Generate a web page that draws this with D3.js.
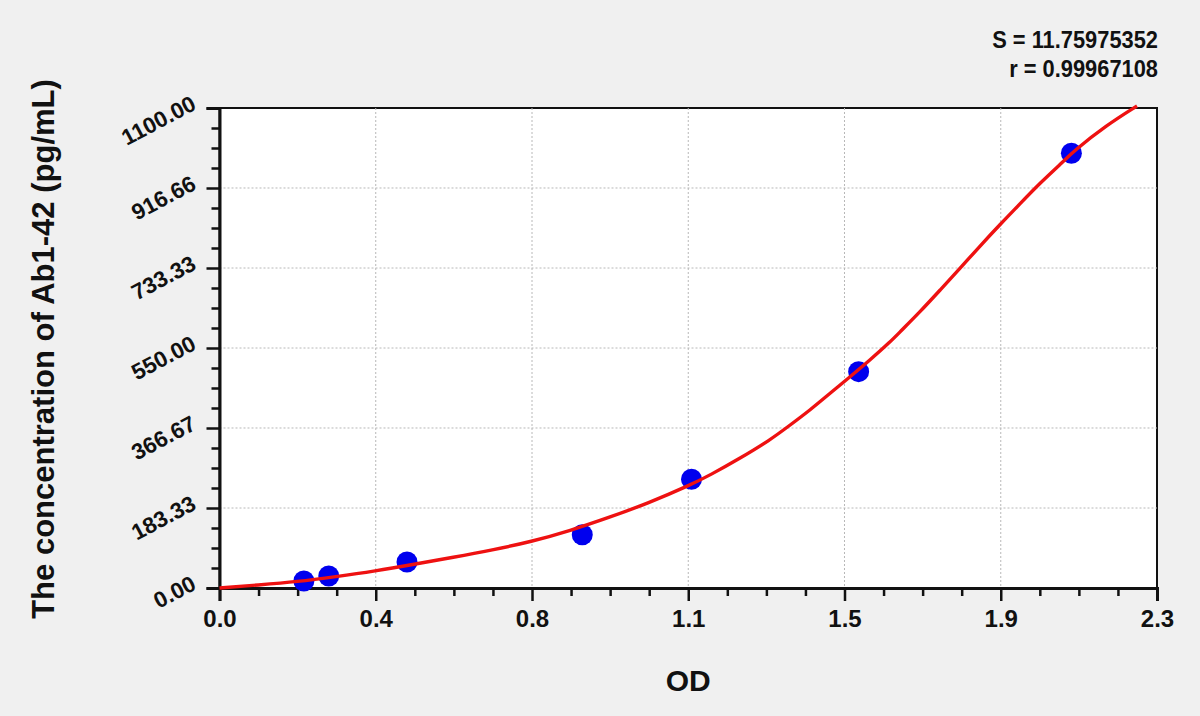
<!DOCTYPE html>
<html>
<head>
<meta charset="utf-8">
<script src="https://cdn.jsdelivr.net/npm/d3@7"></script>
<style>
  body { margin: 0; background: #f0f0f0; }
  svg { display: block; }
  text { font-family: "Liberation Sans", Arial, sans-serif; font-weight: bold; fill: #111; }
</style>
</head>
<body>
<div id="container"></div>
<script>
const canvasWidth = 1200;
const canvasHeight = 716;

// standard points (OD, concentration)
const pointOD = [0.207, 0.268, 0.460, 0.890, 1.158, 1.568, 2.090];
const pointConc = [16.0, 27.5, 59.6, 122.1, 249.3, 495.7, 996.2];

// fitted curve
const curveOD = [0, 0.095, 0.191, 0.285, 0.382, 0.477, 0.574, 0.669, 0.765, 0.860,
  0.957, 1.051, 1.155, 1.204, 1.277, 1.351, 1.400, 1.449, 1.498, 1.547,
  1.596, 1.646, 1.670, 1.719, 1.768, 1.817, 1.866, 1.915, 1.965, 2.014,
  2.063, 2.095, 2.177, 2.251];
const curveConc = [0, 6.9, 14.4, 25.9, 39.0, 54.3, 70.4, 87.1, 106.1, 131.3,
  162.0, 194.1, 236.0, 259.0, 297.2, 339.2, 373.5, 407.9, 446.2, 484.2,
  522.5, 564.4, 587.4, 633.2, 682.9, 732.6, 784.0, 833.0, 881.6, 929.0,
  971.0, 1001.0, 1061.0, 1104.6];

// axis ticks
const xTicks = [0, 0.38333, 0.76667, 1.15, 1.53333, 1.91667, 2.3];
const xTickLabels = ["0.0", "0.4", "0.8", "1.1", "1.5", "1.9", "2.3"];
const yTicks = [0, 183.333, 366.667, 550, 733.333, 916.667, 1100];
const yTickLabels = ["0.00", "183.33", "366.67", "550.00", "733.33", "916.66", "1100.00"];

const statLines = ["S = 11.75975352", "r = 0.99967108"];
const xTitle = "OD";
const yTitle = "The concentration of Ab1-42 (pg/mL)";

// plot box
const plotLeft = 219.5, plotRight = 1157, plotTop = 108, plotBottom = 588;

let svg = d3.select("#container")
            .append("svg")
              .attr("width", canvasWidth)
              .attr("height", canvasHeight)
              .style("background-color", "#f0f0f0");

let x = d3.scaleLinear().domain([0, 2.3]).range([plotLeft, plotRight]);
let y = d3.scaleLinear().domain([0, 1100]).range([plotBottom, plotTop]);

// white plot area with frame
svg.append("rect")
    .attr("x", plotLeft).attr("y", plotTop)
    .attr("width", plotRight - plotLeft).attr("height", plotBottom - plotTop)
    .attr("fill", "white")
    .attr("stroke", "#111")
    .attr("stroke-width", 2);

// dotted grid
svg.append("g").selectAll("line").data(xTicks.slice(1, -1)).enter().append("line")
    .attr("x1", d => x(d)).attr("x2", d => x(d))
    .attr("y1", plotTop).attr("y2", plotBottom)
    .attr("stroke", "#b8b8b8").attr("stroke-dasharray", "2,2");
svg.append("g").selectAll("line").data(yTicks.slice(1, -1)).enter().append("line")
    .attr("y1", d => y(d)).attr("y2", d => y(d))
    .attr("x1", plotLeft).attr("x2", plotRight)
    .attr("stroke", "#b8b8b8").attr("stroke-dasharray", "2,2");

// minor ticks, 3 between each pair of majors
function minors(major) {
  let out = [];
  for (let i = 0; i < major.length - 1; i++) {
    let step = (major[i + 1] - major[i]) / 4;
    for (let k = 1; k < 4; k++) out.push(major[i] + k * step);
  }
  return out;
}

// x axis
let xAxis = svg.append("g")
    .attr("transform", "translate(0," + plotBottom + ")")
    .call(d3.axisBottom(x).tickValues(xTicks).tickSize(13).tickPadding(9)
            .tickFormat((d, i) => xTickLabels[i]));
xAxis.select(".domain").attr("stroke", "#111").attr("stroke-width", 3);
xAxis.selectAll(".tick line").attr("stroke", "#111").attr("stroke-width", 2.5);
xAxis.selectAll(".tick text").style("font-size", "24px").attr("fill", "#111");
svg.append("g").attr("transform", "translate(0," + plotBottom + ")")
    .call(d3.axisBottom(x).tickValues(minors(xTicks)).tickSize(8).tickFormat(""))
    .call(g => g.select(".domain").remove())
    .selectAll("line").attr("stroke", "#111").attr("stroke-width", 2.5);

// y axis
let yAxis = svg.append("g")
    .attr("transform", "translate(" + plotLeft + ",0)")
    .call(d3.axisLeft(y).tickValues(yTicks).tickSize(13).tickFormat((d, i) => yTickLabels[i]));
yAxis.select(".domain").attr("stroke", "#111").attr("stroke-width", 3);
yAxis.selectAll(".tick line").attr("stroke", "#111").attr("stroke-width", 2.5);
yAxis.selectAll(".tick text")
    .style("font-size", "22.5px")
    .attr("fill", "#111")
    .attr("x", null).attr("dy", null)
    .attr("text-anchor", "end")
    .attr("transform", "translate(-22,0) rotate(-28)");
svg.append("g").attr("transform", "translate(" + plotLeft + ",0)")
    .call(d3.axisLeft(y).tickValues(minors(yTicks)).tickSize(8).tickFormat(""))
    .call(g => g.select(".domain").remove())
    .selectAll("line").attr("stroke", "#111").attr("stroke-width", 2.5);

// standard points
svg.append("g").selectAll("circle").data(pointOD).enter().append("circle")
    .attr("cx", d => x(d))
    .attr("cy", (d, i) => y(pointConc[i]))
    .attr("r", 10.5)
    .attr("fill", "#0000ee");

// fitted curve
let line = d3.line()
    .x(d => x(d))
    .y((d, i) => y(curveConc[i]))
    .curve(d3.curveBasis);
svg.append("path")
    .attr("d", line(curveOD))
    .attr("fill", "none")
    .attr("stroke", "#ee1111")
    .attr("stroke-width", 3.4);

// titles
svg.append("text")
    .attr("x", (plotLeft + plotRight) / 2).attr("y", 691)
    .attr("text-anchor", "middle")
    .style("font-size", "30px")
    .text(xTitle);
svg.append("text")
    .attr("transform", "translate(54,349) rotate(-90)")
    .attr("text-anchor", "middle")
    .style("font-size", "31px")
    .text(yTitle);

// fit statistics
svg.append("g").selectAll("text").data(statLines).enter().append("text")
    .attr("x", 1158)
    .attr("y", (d, i) => 48 + i * 29)
    .attr("text-anchor", "end")
    .style("font-size", "23px")
    .attr("transform", "translate(1158,0) scale(0.95,1) translate(-1158,0)")
    .text(d => d);
</script>
</body>
</html>
